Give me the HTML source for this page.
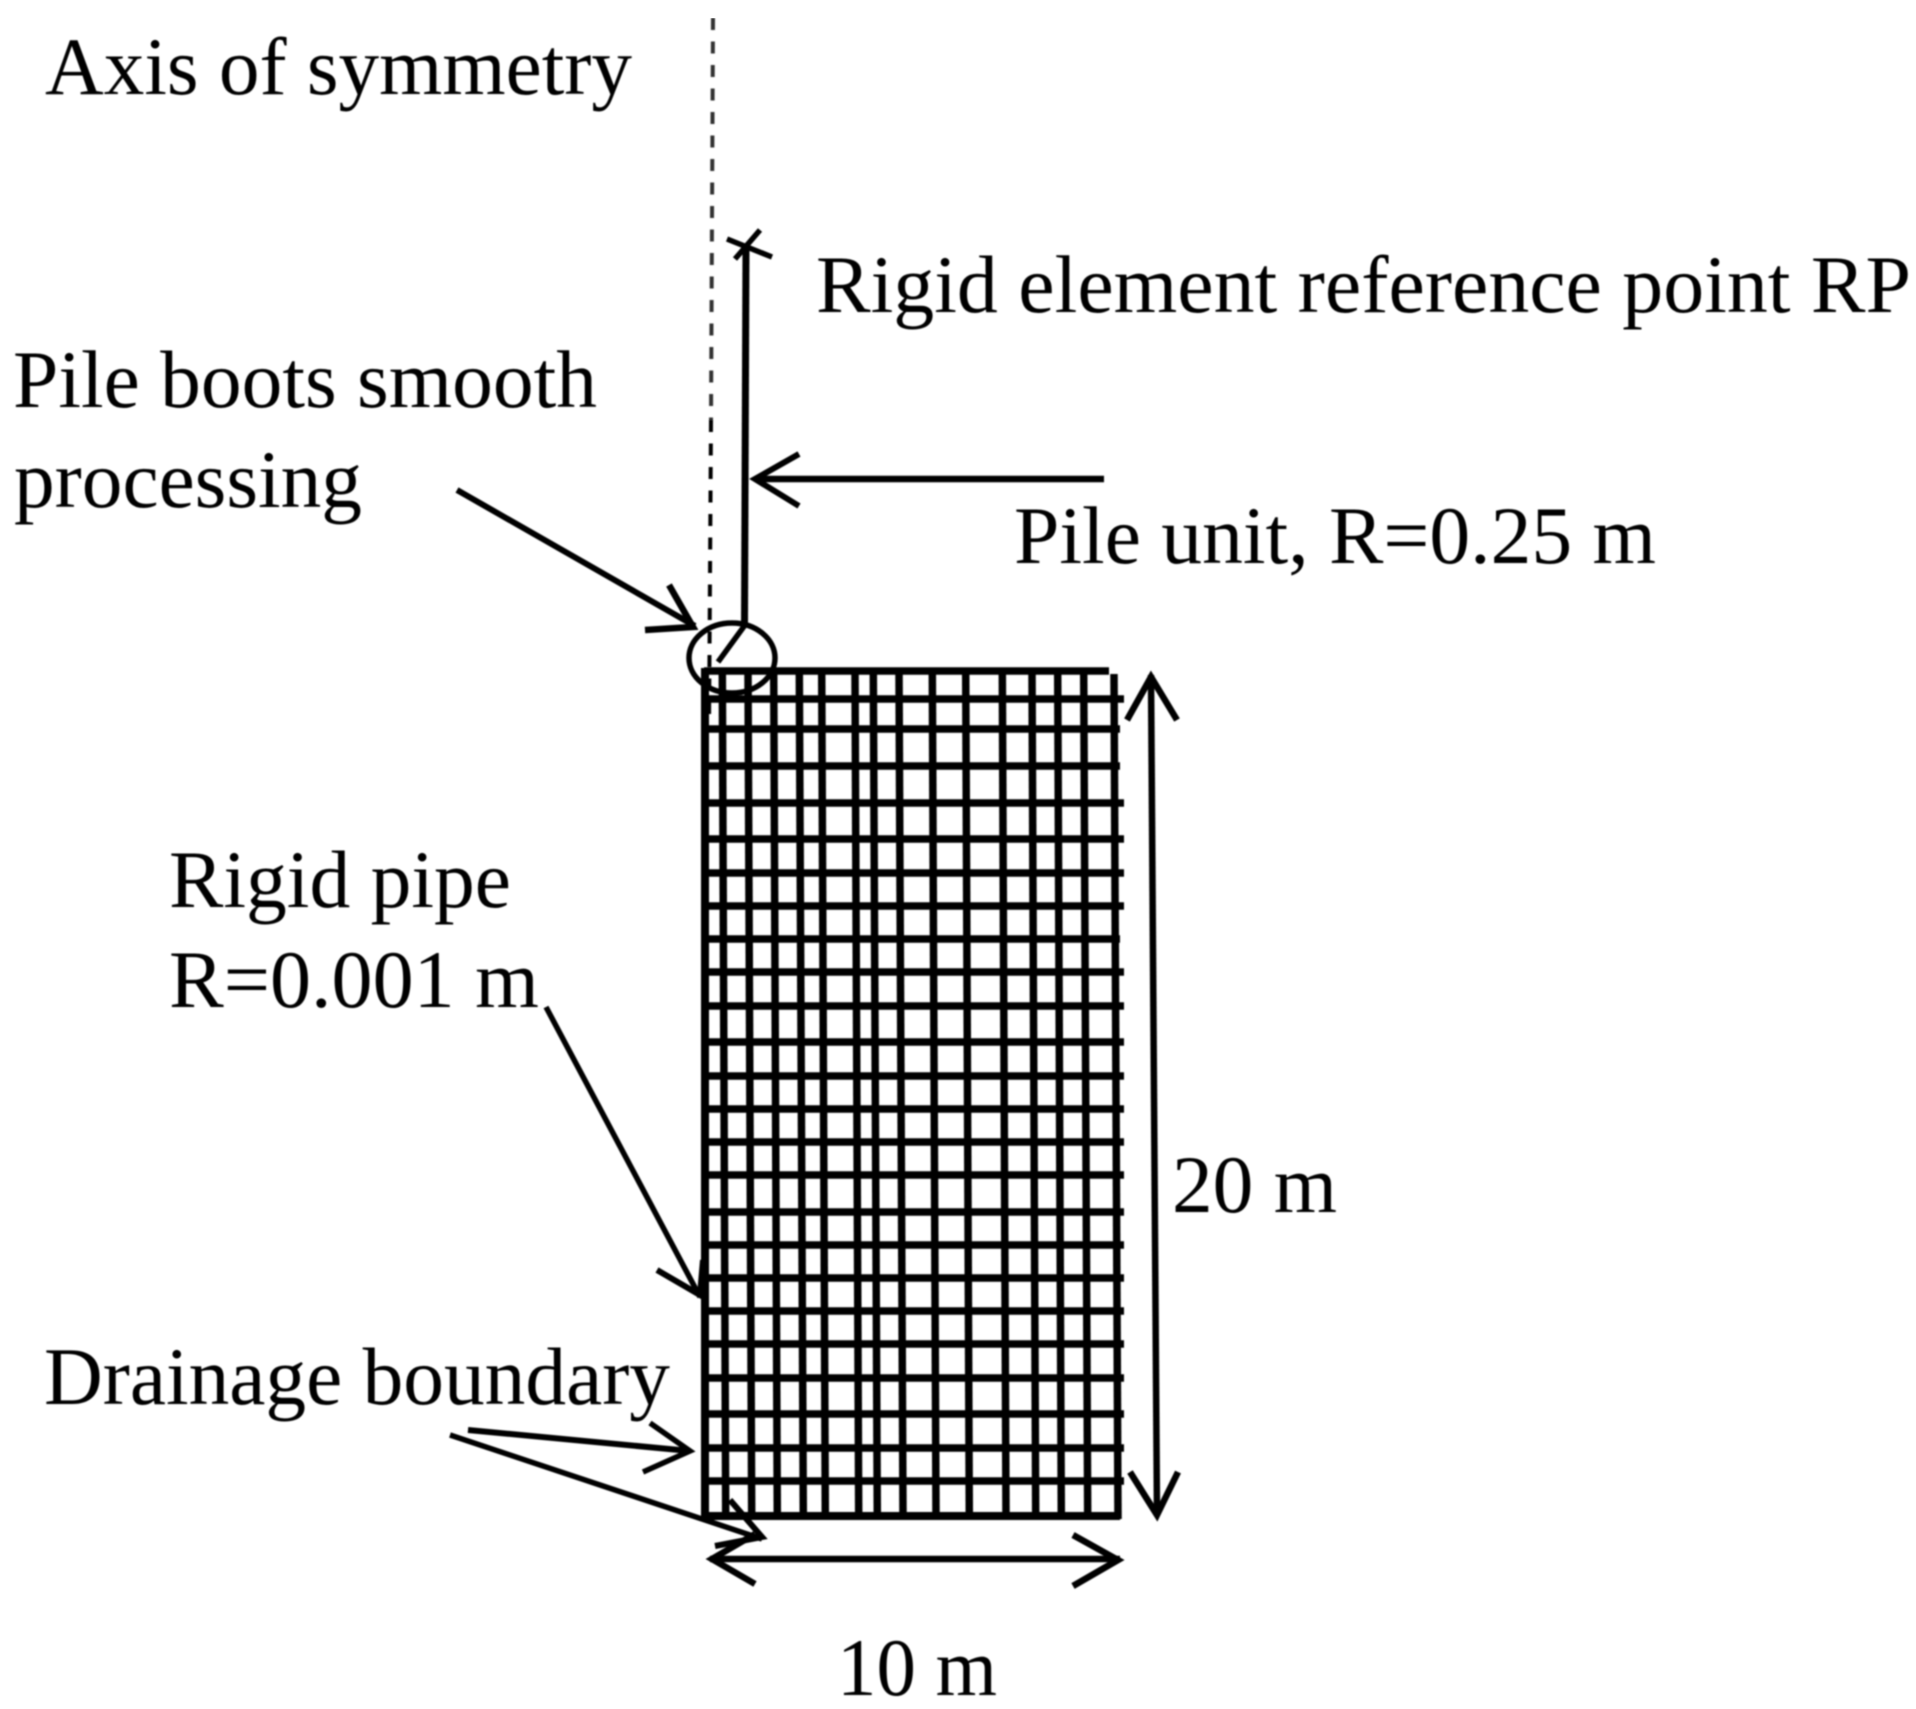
<!DOCTYPE html>
<html>
<head>
<meta charset="utf-8">
<style>
html,body{margin:0;padding:0;background:#fff;width:1916px;height:1709px;overflow:hidden}
svg{display:block}
text{font-family:"Liberation Serif",serif;fill:#000}
</style>
</head>
<body>
<svg xmlns="http://www.w3.org/2000/svg" width="1916" height="1709" viewBox="0 0 1916 1709">
<defs><filter id="b" x="0" y="0" width="100%" height="100%"><feGaussianBlur stdDeviation="0.7"/></filter></defs>
<rect width="1916" height="1709" fill="#fff"/>
<g filter="url(#b)">
<!-- dashed axis -->
<line x1="713" y1="18" x2="711" y2="420" stroke="#333" stroke-width="4" stroke-dasharray="12 11.5"/>
<line x1="711" y1="420" x2="709" y2="730" stroke="#000" stroke-width="4" stroke-dasharray="12 11.5"/>
<!-- grid horizontals -->
<g stroke="#000" stroke-width="7.5" fill="none">
<line x1="704" y1="671" x2="1109" y2="671"/>
<line x1="704" y1="699" x2="1124" y2="699"/>
<line x1="704" y1="729" x2="1120" y2="729"/>
<line x1="704" y1="766" x2="1120" y2="766"/>
<line x1="704" y1="803" x2="1124" y2="803"/>
<line x1="704" y1="839" x2="1124" y2="839"/>
<line x1="704" y1="873" x2="1124" y2="873"/>
<line x1="704" y1="906" x2="1124" y2="906"/>
<line x1="704" y1="939" x2="1120" y2="939"/>
<line x1="704" y1="972" x2="1124" y2="972"/>
<line x1="704" y1="1006" x2="1124" y2="1006"/>
<line x1="704" y1="1042" x2="1124" y2="1042"/>
<line x1="704" y1="1076" x2="1124" y2="1076"/>
<line x1="704" y1="1109" x2="1124" y2="1109"/>
<line x1="704" y1="1142" x2="1124" y2="1142"/>
<line x1="704" y1="1175" x2="1124" y2="1175"/>
<line x1="704" y1="1212" x2="1124" y2="1212"/>
<line x1="704" y1="1245" x2="1124" y2="1245"/>
<line x1="704" y1="1278" x2="1124" y2="1278"/>
<line x1="704" y1="1311" x2="1124" y2="1311"/>
<line x1="704" y1="1344" x2="1124" y2="1344"/>
<line x1="704" y1="1378" x2="1124" y2="1378"/>
<line x1="704" y1="1414" x2="1124" y2="1414"/>
<line x1="704" y1="1448" x2="1124" y2="1448"/>
<line x1="704" y1="1481" x2="1124" y2="1481"/>
<line x1="704" y1="1516" x2="1120" y2="1516" stroke-width="8"/>
<!-- grid verticals -->
<line x1="705" y1="668" x2="705" y2="1519" stroke-width="8"/>
<line x1="722.3" y1="670" x2="725.7" y2="1516"/>
<line x1="748" y1="670" x2="751.7" y2="1516"/>
<line x1="773.7" y1="670" x2="777.3" y2="1516"/>
<line x1="799.3" y1="670" x2="803.3" y2="1516"/>
<line x1="821.7" y1="670" x2="825.3" y2="1516"/>
<line x1="855" y1="670" x2="858.7" y2="1516"/>
<line x1="873.3" y1="670" x2="877.3" y2="1516"/>
<line x1="899" y1="670" x2="903" y2="1516"/>
<line x1="932.3" y1="670" x2="936" y2="1516"/>
<line x1="965.7" y1="670" x2="969.3" y2="1516"/>
<line x1="1002.3" y1="670" x2="1006" y2="1516"/>
<line x1="1032" y1="670" x2="1035.7" y2="1516"/>
<line x1="1057.7" y1="670" x2="1061.3" y2="1516"/>
<line x1="1083.7" y1="670" x2="1087.7" y2="1516"/>
<line x1="1114" y1="674" x2="1118" y2="1519"/>
</g>
<!-- connectors -->
<g stroke="#000" fill="none" stroke-linejoin="miter">
<!-- pile -->
<line x1="746" y1="245" x2="744.5" y2="625" stroke-width="7"/>
<line x1="727" y1="239" x2="772" y2="257" stroke-width="5.5"/>
<line x1="760" y1="230" x2="735" y2="259" stroke-width="5.5"/>
<!-- pile unit arrow -->
<line x1="755" y1="479" x2="1104" y2="479" stroke-width="6.5"/>
<polyline points="799,454 755,479 799,506" stroke-width="6"/>
<!-- pile boots arrow -->
<line x1="457" y1="490" x2="695" y2="626" stroke-width="6"/>
<polyline points="669,585 693,627 645,630" stroke-width="6.5"/>
<!-- circle -->
<ellipse cx="732" cy="658" rx="43" ry="35" stroke-width="5.5"/>
<line x1="745" y1="625" x2="718" y2="662" stroke-width="5.5"/>
<!-- rigid pipe arrow -->
<line x1="546" y1="1007" x2="700" y2="1297" stroke-width="5.5"/>
<polyline points="657,1270 700,1295 703,1260" stroke-width="6"/>
<!-- drainage arrows -->
<line x1="468" y1="1430" x2="690" y2="1451" stroke-width="6"/>
<polyline points="650,1423 690,1451 643,1472" stroke-width="5.5"/>
<line x1="450" y1="1435" x2="762" y2="1539" stroke-width="5.5"/>
<polyline points="730,1500 762,1537 715,1546" stroke-width="6"/>
<!-- 20 m arrow -->
<line x1="1151" y1="675" x2="1157" y2="1515" stroke-width="6.5"/>
<polyline points="1127,720 1151,677 1177,720" stroke-width="6.5"/>
<polyline points="1130,1472 1157,1515 1178,1472" stroke-width="6.5"/>
<!-- 10 m arrow -->
<line x1="710" y1="1559" x2="1120" y2="1559" stroke-width="6.5"/>
<polyline points="755,1534 712,1559 755,1584" stroke-width="6.5"/>
<polyline points="1073,1535 1118,1560 1073,1586" stroke-width="6.5"/>
</g>
<!-- labels -->
<text x="45" y="94" font-size="82" textLength="587" lengthAdjust="spacingAndGlyphs">Axis of symmetry</text>
<text x="816" y="312" font-size="81.5" textLength="1095" lengthAdjust="spacingAndGlyphs">Rigid element reference point RP</text>
<text x="13" y="407" font-size="81.5" textLength="584" lengthAdjust="spacingAndGlyphs">Pile boots smooth</text>
<text x="14" y="507" font-size="81.5" textLength="348" lengthAdjust="spacingAndGlyphs">processing</text>
<text x="1014" y="563" font-size="81.5" textLength="642" lengthAdjust="spacingAndGlyphs">Pile unit, R=0.25 m</text>
<text x="169" y="907" font-size="81.5" textLength="342" lengthAdjust="spacingAndGlyphs">Rigid pipe</text>
<text x="169" y="1007" font-size="81.5" textLength="370" lengthAdjust="spacingAndGlyphs">R=0.001 m</text>
<text x="44" y="1404" font-size="81.5" textLength="626" lengthAdjust="spacingAndGlyphs">Drainage boundary</text>
<text x="1172" y="1212" font-size="81.5" textLength="165" lengthAdjust="spacingAndGlyphs">20 m</text>
<text x="837" y="1695" font-size="81.5" textLength="160" lengthAdjust="spacingAndGlyphs">10 m</text>
</g>
</svg>
</body>
</html>
